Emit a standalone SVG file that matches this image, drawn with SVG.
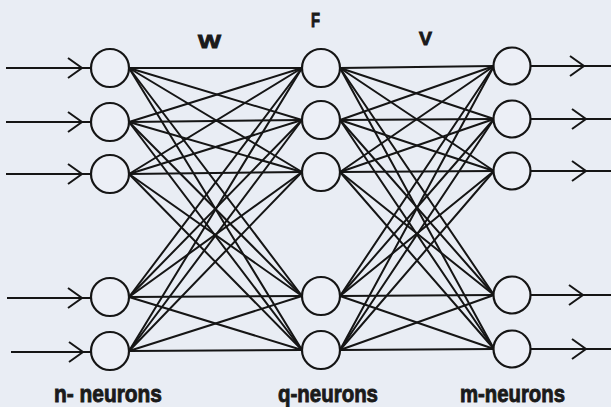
<svg xmlns="http://www.w3.org/2000/svg" xmlns:xlink="http://www.w3.org/1999/xlink" width="611" height="407" viewBox="0 0 611 407">
  <style>
    .bg { fill: #e9edf4; }
    .node { fill: #eceff6; stroke: #151515; stroke-width: 2.2; }
    .w { stroke: #151515; stroke-width: 2; fill: none; stroke-linecap: round; }
    .io { stroke: #151515; stroke-width: 2; fill: none; }
    .lbl { font-family: "Liberation Sans", Arial, sans-serif; font-weight: bold; fill: #1a1a1a; stroke: #1a1a1a; stroke-width: 0.9; }
  </style>
  <defs>
    <!-- open chevron arrowhead, tip at the origin -->
    <path id="chev" d="M-14,-10 L0,0 L-14,10" class="io"/>
  </defs>

  <rect class="bg" x="0" y="0" width="611" height="407"/>

  <!-- weight connections: input layer to hidden layer (W), hidden to output (V) -->
  <g id="connectors">
    <g id="W">
      <line class="w" x1="129" y1="68" x2="302" y2="68"/>
      <line class="w" x1="129" y1="68" x2="302" y2="120"/>
      <line class="w" x1="129" y1="68" x2="302" y2="172"/>
      <line class="w" x1="129" y1="68" x2="302" y2="296"/>
      <line class="w" x1="129" y1="68" x2="302" y2="350"/>
      <line class="w" x1="129" y1="122" x2="302" y2="68"/>
      <line class="w" x1="129" y1="122" x2="302" y2="120"/>
      <line class="w" x1="129" y1="122" x2="302" y2="172"/>
      <line class="w" x1="129" y1="122" x2="302" y2="296"/>
      <line class="w" x1="129" y1="122" x2="302" y2="350"/>
      <line class="w" x1="129" y1="174" x2="302" y2="68"/>
      <line class="w" x1="129" y1="174" x2="302" y2="120"/>
      <line class="w" x1="129" y1="174" x2="302" y2="172"/>
      <line class="w" x1="129" y1="174" x2="302" y2="296"/>
      <line class="w" x1="129" y1="174" x2="302" y2="350"/>
      <line class="w" x1="129" y1="297" x2="302" y2="68"/>
      <line class="w" x1="129" y1="297" x2="302" y2="120"/>
      <line class="w" x1="129" y1="297" x2="302" y2="172"/>
      <line class="w" x1="129" y1="297" x2="302" y2="296"/>
      <line class="w" x1="129" y1="297" x2="302" y2="350"/>
      <line class="w" x1="129" y1="351" x2="302" y2="68"/>
      <line class="w" x1="129" y1="351" x2="302" y2="120"/>
      <line class="w" x1="129" y1="351" x2="302" y2="172"/>
      <line class="w" x1="129" y1="351" x2="302" y2="296"/>
      <line class="w" x1="129" y1="351" x2="302" y2="350"/>
    </g>
    <g id="V">
      <line class="w" x1="340" y1="68" x2="494" y2="66"/>
      <line class="w" x1="340" y1="68" x2="494" y2="119"/>
      <line class="w" x1="340" y1="68" x2="494" y2="171"/>
      <line class="w" x1="340" y1="68" x2="494" y2="295"/>
      <line class="w" x1="340" y1="68" x2="494" y2="349"/>
      <line class="w" x1="340" y1="120" x2="494" y2="66"/>
      <line class="w" x1="340" y1="120" x2="494" y2="119"/>
      <line class="w" x1="340" y1="120" x2="494" y2="171"/>
      <line class="w" x1="340" y1="120" x2="494" y2="295"/>
      <line class="w" x1="340" y1="120" x2="494" y2="349"/>
      <line class="w" x1="340" y1="172" x2="494" y2="66"/>
      <line class="w" x1="340" y1="172" x2="494" y2="119"/>
      <line class="w" x1="340" y1="172" x2="494" y2="171"/>
      <line class="w" x1="340" y1="172" x2="494" y2="295"/>
      <line class="w" x1="340" y1="172" x2="494" y2="349"/>
      <line class="w" x1="340" y1="296" x2="494" y2="66"/>
      <line class="w" x1="340" y1="296" x2="494" y2="119"/>
      <line class="w" x1="340" y1="296" x2="494" y2="171"/>
      <line class="w" x1="340" y1="296" x2="494" y2="295"/>
      <line class="w" x1="340" y1="296" x2="494" y2="349"/>
      <line class="w" x1="340" y1="350" x2="494" y2="66"/>
      <line class="w" x1="340" y1="350" x2="494" y2="119"/>
      <line class="w" x1="340" y1="350" x2="494" y2="171"/>
      <line class="w" x1="340" y1="350" x2="494" y2="295"/>
      <line class="w" x1="340" y1="350" x2="494" y2="349"/>
    </g>
    <!-- input signals -->
    <g id="inputs">
      <line class="io" x1="6" y1="68" x2="91" y2="68"/><use xlink:href="#chev" x="82" y="68"/>
      <line class="io" x1="6" y1="122" x2="91" y2="122"/><use xlink:href="#chev" x="82" y="122"/>
      <line class="io" x1="6" y1="174" x2="91" y2="174"/><use xlink:href="#chev" x="82" y="174"/>
      <line class="io" x1="7" y1="298" x2="91" y2="298"/><use xlink:href="#chev" x="82" y="298"/>
      <line class="io" x1="11" y1="352" x2="91" y2="352"/><use xlink:href="#chev" x="83" y="352"/>
    </g>
    <!-- output signals -->
    <g id="outputs">
      <line class="io" x1="530" y1="66" x2="611" y2="66"/><use xlink:href="#chev" x="584" y="66"/>
      <line class="io" x1="530" y1="119" x2="611" y2="119"/><use xlink:href="#chev" x="586" y="119"/>
      <line class="io" x1="530" y1="171" x2="611" y2="171"/><use xlink:href="#chev" x="586" y="171"/>
      <line class="io" x1="530" y1="295" x2="611" y2="295"/><use xlink:href="#chev" x="583" y="295"/>
      <line class="io" x1="530" y1="349" x2="611" y2="349"/><use xlink:href="#chev" x="586" y="349"/>
    </g>
  </g>

  <!-- input layer -->
  <g id="n1"><circle class="node" cx="110" cy="68" r="19"/></g>
  <g id="n2"><circle class="node" cx="110" cy="122" r="19"/></g>
  <g id="n3"><circle class="node" cx="110" cy="174" r="19"/></g>
  <g id="n4"><circle class="node" cx="110" cy="297" r="19"/></g>
  <g id="n5"><circle class="node" cx="110" cy="351" r="19"/></g>
  <!-- hidden layer -->
  <g id="q1"><circle class="node" cx="321" cy="68" r="19"/></g>
  <g id="q2"><circle class="node" cx="321" cy="120" r="19"/></g>
  <g id="q3"><circle class="node" cx="321" cy="172" r="19"/></g>
  <g id="q4"><circle class="node" cx="321" cy="296" r="19"/></g>
  <g id="q5"><circle class="node" cx="321" cy="350" r="19"/></g>
  <!-- output layer -->
  <g id="m1"><circle class="node" cx="512" cy="66" r="18.5"/></g>
  <g id="m2"><circle class="node" cx="512" cy="119" r="18.5"/></g>
  <g id="m3"><circle class="node" cx="512" cy="171" r="18.5"/></g>
  <g id="m4"><circle class="node" cx="512" cy="295" r="18.5"/></g>
  <g id="m5"><circle class="node" cx="512" cy="349" r="18.5"/></g>

  <!-- layer labels -->
  <text class="lbl" x="198" y="48" font-size="19" textLength="23" lengthAdjust="spacingAndGlyphs">W</text>
  <text class="lbl" x="311" y="27" font-size="20" textLength="9" lengthAdjust="spacingAndGlyphs">F</text>
  <text class="lbl" x="419" y="45" font-size="19" textLength="13" lengthAdjust="spacingAndGlyphs">V</text>
  <text class="lbl" x="54" y="402" font-size="24" textLength="108" lengthAdjust="spacingAndGlyphs">n- neurons</text>
  <text class="lbl" x="278" y="402" font-size="24" textLength="100" lengthAdjust="spacingAndGlyphs">q-neurons</text>
  <text class="lbl" x="460" y="402" font-size="24" textLength="105" lengthAdjust="spacingAndGlyphs">m-neurons</text>
</svg>
